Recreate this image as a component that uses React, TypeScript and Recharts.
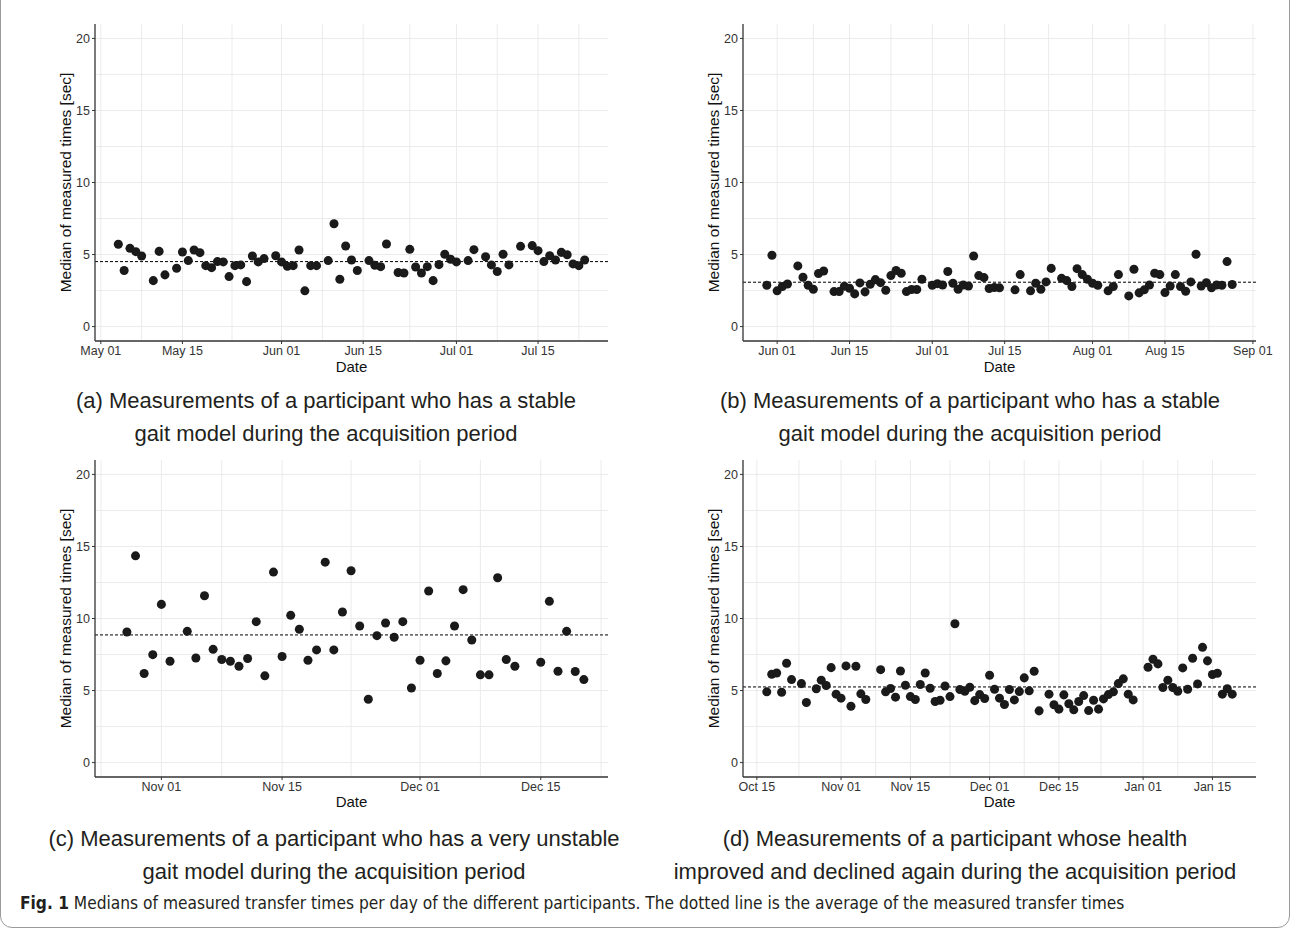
import React from 'react';
import { ScatterChart, Scatter, XAxis, YAxis, ZAxis, CartesianGrid, ReferenceLine } from 'recharts';

// (a) day 0 = May 01
const aDays = [3, 4, 5, 6, 7, 9, 10, 11, 13, 14, 15, 16, 17, 18, 19, 20, 21, 22, 23, 24, 25, 26, 27, 28, 30, 31, 32, 33, 34, 35, 36, 37, 39, 40, 41, 42, 43, 44, 46, 47, 48, 49, 51, 52, 53, 54, 55, 56, 57, 58, 59, 60, 61, 63, 64, 66, 67, 68, 69, 70, 72, 74, 75, 76, 77, 78, 79, 80, 81, 82, 83];
const aValues = [5.71, 3.89, 5.43, 5.2, 4.9, 3.19, 5.22, 3.59, 4.05, 5.18, 4.58, 5.32, 5.13, 4.23, 4.09, 4.51, 4.49, 3.47, 4.23, 4.28, 3.12, 4.9, 4.49, 4.72, 4.92, 4.49, 4.18, 4.23, 5.32, 2.48, 4.23, 4.23, 4.58, 7.14, 3.29, 5.59, 4.62, 3.89, 4.58, 4.25, 4.16, 5.73, 3.75, 3.72, 5.36, 4.14, 3.72, 4.16, 3.19, 4.3, 5.02, 4.67, 4.49, 4.58, 5.34, 4.85, 4.28, 3.82, 5.02, 4.28, 5.57, 5.62, 5.27, 4.51, 4.92, 4.62, 5.15, 4.99, 4.35, 4.23, 4.62];
const aTickDays = [0, 14, 31, 45, 61, 75];
const aTickLabels = ['May 01', 'May 15', 'Jun 01', 'Jun 15', 'Jul 01', 'Jul 15'];
const aMinorDays = [7, 22.5, 38, 53, 68, 82];
const aMean = 4.51;

// (b) day 0 = Jun 01
const bDays = [-2, -1, 0, 1, 2, 4, 5, 6, 7, 8, 9, 11, 12, 13, 14, 15, 16, 17, 18, 19, 20, 21, 22, 23, 24, 25, 26, 27, 28, 30, 31, 32, 33, 34, 35, 36, 37, 38, 39, 40, 41, 42, 43, 46, 47, 49, 50, 51, 52, 53, 55, 56, 57, 58, 59, 60, 61, 62, 64, 65, 66, 68, 69, 70, 71, 72, 73, 74, 75, 76, 77, 78, 79, 80, 81, 82, 83, 84, 85, 86, 87, 88];
const bValues = [2.87, 4.95, 2.48, 2.78, 2.96, 4.21, 3.42, 2.87, 2.59, 3.68, 3.86, 2.43, 2.43, 2.8, 2.66, 2.27, 3.03, 2.41, 2.94, 3.26, 3.05, 2.52, 3.54, 3.89, 3.7, 2.43, 2.57, 2.57, 3.29, 2.87, 2.98, 2.89, 3.82, 3.01, 2.59, 2.89, 2.82, 4.9, 3.54, 3.4, 2.64, 2.71, 2.69, 2.55, 3.61, 2.48, 3.01, 2.59, 3.1, 4.04, 3.35, 3.19, 2.78, 4.02, 3.61, 3.29, 3.01, 2.87, 2.48, 2.78, 3.61, 2.13, 3.98, 2.34, 2.55, 2.89, 3.7, 3.61, 2.36, 2.82, 3.61, 2.78, 2.45, 3.1, 5.02, 2.82, 3.05, 2.69, 2.89, 2.87, 4.51, 2.92];
const bTickDays = [0, 14, 30, 44, 61, 75, 92];
const bTickLabels = ['Jun 01', 'Jun 15', 'Jul 01', 'Jul 15', 'Aug 01', 'Aug 15', 'Sep 01'];
const bMinorDays = [7, 22, 37, 52.5, 68, 83.5];
const bMean = 3.08;

// (c) day 0 = Nov 01
const cDays = [-4, -3, -2, -1, 0, 1, 3, 4, 5, 6, 7, 8, 9, 10, 11, 12, 13, 14, 15, 16, 17, 18, 19, 20, 21, 22, 23, 24, 25, 26, 27, 28, 29, 30, 31, 32, 33, 34, 35, 36, 37, 38, 39, 40, 41, 44, 45, 46, 47, 48, 49];
const cValues = [9.06, 14.35, 6.18, 7.49, 10.98, 7.03, 9.11, 7.26, 11.58, 7.86, 7.15, 7.03, 6.69, 7.22, 9.78, 6.02, 13.22, 7.36, 10.22, 9.25, 7.1, 7.82, 13.91, 7.82, 10.45, 13.31, 9.48, 4.4, 8.81, 9.69, 8.7, 9.78, 5.18, 7.1, 11.91, 6.18, 7.06, 9.48, 12.0, 8.51, 6.09, 6.09, 12.83, 7.15, 6.69, 6.96, 11.19, 6.34, 9.11, 6.32, 5.76];
const cTickDays = [0, 14, 30, 44];
const cTickLabels = ['Nov 01', 'Nov 15', 'Dec 01', 'Dec 15'];
const cMinorDays = [-7, 7, 22, 37, 51];
const cMean = 8.86;

// (d) day 0 = Oct 15
const dDays = [2, 3, 4, 5, 6, 7, 9, 10, 12, 13, 14, 15, 16, 17, 18, 19, 20, 21, 22, 25, 26, 27, 28, 29, 30, 31, 32, 33, 34, 35, 36, 37, 38, 39, 40, 41, 42, 43, 44, 45, 46, 47, 48, 49, 50, 51, 52, 53, 54, 55, 56, 57, 59, 60, 61, 62, 63, 64, 65, 66, 67, 68, 69, 70, 71, 72, 73, 74, 75, 76, 79, 80, 81, 82, 83, 84, 85, 86, 87, 88, 89, 90, 91, 92, 93, 94, 95, 96];
const dValues = [4.91, 6.13, 6.22, 4.88, 6.89, 5.76, 5.48, 4.17, 5.12, 5.72, 5.35, 6.59, 4.75, 4.47, 6.71, 3.91, 6.69, 4.77, 4.38, 6.45, 4.91, 5.14, 4.54, 6.36, 5.37, 4.58, 4.38, 5.42, 6.22, 5.16, 4.24, 4.33, 5.32, 4.58, 9.64, 5.07, 4.95, 5.23, 4.3, 4.72, 4.45, 6.06, 5.09, 4.47, 4.03, 5.07, 4.35, 4.93, 5.88, 4.98, 6.34, 3.59, 4.75, 4.01, 3.71, 4.7, 4.08, 3.66, 4.24, 4.65, 3.61, 4.33, 3.71, 4.42, 4.72, 4.91, 5.48, 5.81, 4.75, 4.35, 6.62, 7.17, 6.85, 5.21, 5.72, 5.21, 4.95, 6.57, 5.09, 7.24, 5.46, 8.0, 7.06, 6.11, 6.2, 4.75, 5.12, 4.75];
const dTickDays = [0, 17, 31, 47, 61, 78, 92];
const dTickLabels = ['Oct 15', 'Nov 01', 'Nov 15', 'Dec 01', 'Dec 15', 'Jan 01', 'Jan 15'];
const dMinorDays = [8.5, 24, 39, 54, 69.5, 85];
const dMean = 5.25;

const yTicks = [0, 5, 10, 15, 20];
const yGrid = [0, 2.5, 5, 7.5, 10, 12.5, 15, 17.5, 20];

const FONT = '"Liberation Sans", Arial, Helvetica, sans-serif';

type PanelProps = {
  days: number[];
  values: number[];
  tickDays: number[];
  tickLabels: string[];
  minorDays: number[];
  mean: number;
  domain: [number, number];
  left: number;
  top: number;
  xh: number;
};

const Panel: React.FC<PanelProps> = ({ days, values, tickDays, tickLabels, minorDays, mean, domain, left, top, xh }) => {
  const data = days.map((d, i) => ({ day: d, v: values[i] }));
  const fmt = (d: number) => tickLabels[tickDays.indexOf(d)] ?? '';
  return (
    <div style={{ position: 'absolute', left, top }}>
      <ScatterChart width={597} height={4 + 317 + xh} margin={{ top: 4, right: 24, bottom: 0, left: 0 }}>
        <CartesianGrid
          stroke="#ebebeb"
          strokeWidth={1}
          verticalValues={[...tickDays, ...minorDays]}
          horizontalValues={yGrid}
        />
        <XAxis
          type="number"
          dataKey="day"
          domain={domain}
          ticks={tickDays}
          interval={0}
          allowDataOverflow
          tickFormatter={fmt}
          height={xh}
          tickSize={3}
          tickMargin={2}
          axisLine={{ stroke: '#333', strokeWidth: 1.3 }}
          tickLine={{ stroke: '#333' }}
          tick={{ fill: '#333', fontSize: 12.5 }}
          label={{ value: 'Date', position: 'insideBottom', offset: 4, fill: '#111', fontSize: 15 }}
        />
        <XAxis xAxisId="top" orientation="top" type="number" domain={[0, 1]} height={0} tick={false} tickLine={false} axisLine={{ stroke: '#444' }} />
        <YAxis
          type="number"
          dataKey="v"
          domain={[-1, 21]}
          ticks={yTicks}
          interval={0}
          allowDataOverflow
          width={60}
          tickSize={3}
          tickMargin={2}
          axisLine={{ stroke: '#333', strokeWidth: 1.3 }}
          tickLine={{ stroke: '#333' }}
          tick={{ fill: '#333', fontSize: 12.5 }}
          label={{ value: 'Median of measured times [sec]', angle: -90, position: 'center', fill: '#111', fontSize: 15.5 }}
        />
        <YAxis yAxisId="right" orientation="right" type="number" domain={[0, 1]} width={0} tick={false} tickLine={false} axisLine={{ stroke: '#444' }} />
        <ZAxis range={[34, 34]} />
        <ReferenceLine y={mean} stroke="#000" strokeWidth={1} strokeDasharray="3 2" />
        <Scatter data={data} fill="#1a1a1a" isAnimationActive={false} />
      </ScatterChart>
    </div>
  );
};

const captionStyle: React.CSSProperties = {
  position: 'absolute',
  width: 700,
  textAlign: 'center',
  fontFamily: FONT,
  fontSize: 22,
  lineHeight: '33px',
  color: '#231f20',
  whiteSpace: 'nowrap',
};

export default function App() {
  return (
    <div style={{ position: 'absolute', left: 0, top: 0, width: 1292, height: 936, background: '#fff', fontFamily: FONT, overflow: 'hidden' }}>
      <div style={{ position: 'absolute', left: 0, top: -12, width: 1290, height: 940, border: '1px solid #9a9a9a', borderRadius: 12, boxSizing: 'border-box' }} />

      <Panel days={aDays} values={aValues} tickDays={aTickDays} tickLabels={aTickLabels} minorDays={aMinorDays} mean={aMean} domain={[-1, 87]} left={35} top={20} xh={35} />
      <Panel days={bDays} values={bValues} tickDays={bTickDays} tickLabels={bTickLabels} minorDays={bMinorDays} mean={bMean} domain={[-6.6, 92.6]} left={683} top={20} xh={35} />
      <Panel days={cDays} values={cValues} tickDays={cTickDays} tickLabels={cTickLabels} minorDays={cMinorDays} mean={cMean} domain={[-7.7, 51.8]} left={35} top={456} xh={34} />
      <Panel days={dDays} values={dValues} tickDays={dTickDays} tickLabels={dTickLabels} minorDays={dMinorDays} mean={dMean} domain={[-2.8, 100.8]} left={683} top={456} xh={34} />

      <div style={{ ...captionStyle, left: 326 - 350, top: 384 }}>
        (a) Measurements of a participant who has a stable<br />gait model during the acquisition period
      </div>
      <div style={{ ...captionStyle, left: 970 - 350, top: 384 }}>
        (b) Measurements of a participant who has a stable<br />gait model during the acquisition period
      </div>
      <div style={{ ...captionStyle, left: 334 - 350, top: 822 }}>
        (c) Measurements of a participant who has a very unstable<br />gait model during the acquisition period
      </div>
      <div style={{ ...captionStyle, left: 955 - 350, top: 822 }}>
        (d) Measurements of a participant whose health<br />improved and declined again during the acquisition period
      </div>

      <div style={{ position: 'absolute', left: 20, top: 893, fontFamily: '"Liberation Sans Narrow", "DejaVu Sans Condensed", sans-serif', fontSize: 17.2, lineHeight: '20px', color: '#231f20', whiteSpace: 'nowrap' }}>
        <b>Fig. 1</b> Medians of measured transfer times per day of the different participants. The dotted line is the average of the measured transfer times
      </div>
    </div>
  );
}
